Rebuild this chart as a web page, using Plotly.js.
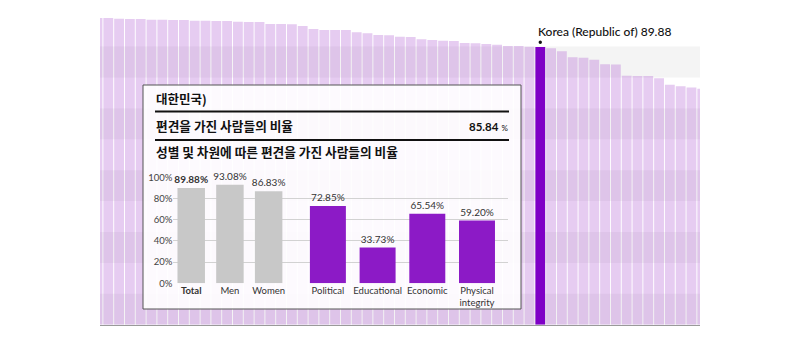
<!DOCTYPE html>
<html><head><meta charset="utf-8">
<script src="https://cdn.plot.ly/plotly-3.0.1.min.js"></script>
<style>html,body{margin:0;padding:0;background:#fff}#chart{width:800px;height:350px}</style>
</head><body><div id="chart"></div>
<script>
// Background: share of people with at least one bias, by country (sorted), visible window
const bgValues = [99.26, 99.26, 99.03, 98.93, 98.93, 98.71, 98.71, 98.61, 98.61, 98.38,
  98.38, 98.28, 98.28, 98.06, 97.96, 97.96, 97.31, 97.31, 97.22, 96.67,
  95.70, 95.37, 95.37, 95.37, 94.63, 94.30, 93.75, 93.69, 93.20, 93.11,
  92.36, 92.14, 91.91, 91.81, 91.17, 91.07, 90.84, 90.61, 90.19, 90.19,
  89.97, 89.88, 89.45, 88.51, 86.54, 86.41, 85.76, 84.30, 84.21, 80.55,
  80.49, 80.49, 79.74, 77.64, 77.18, 76.76, 76.38];
const highlightName = 'Korea (Republic of)';
const highlightValue = 89.88;

// Inset panel
const panelTitle = '대한민국)';
const overallLabel = '편견을 가진 사람들의 비율';
const overallValue = 85.84;
const breakdownLabel = '성별 및 차원에 따른 편견을 가진 사람들의 비율';
const sexCategories = ['Total', 'Men', 'Women'];
const sexValues = [89.88, 93.08, 86.83];
const dimCategories = ['Political', 'Educational', 'Economic', 'Physical integrity'];
const dimValues = [72.85, 33.73, 65.54, 59.20];
const insetTickVals = [0, 20, 40, 60, 80, 100];

const W = 800, H = 350;
const px = x => x / W;
const py = y => 1 - y / H;
const LATIN = 'Lato, "Noto Sans", sans-serif';
const KR = '"Noto Sans CJK KR", "Noto Sans", sans-serif';

const hiIdx = bgValues.indexOf(highlightValue);
const bgX = bgValues.map((_, i) => i);
const bgColors = bgValues.map((_, i) => i === hiIdx ? '#7f00c6' : 'rgba(155,50,200,0.25)');

const fmt = v => v.toFixed(2) + '%';
const tickText = c => c === 'Total' ? '<b>' + c + '</b>' : c.replace(' ', '<br>');

const traces = [
  {type: 'bar', x: bgX, y: bgValues, xaxis: 'x', yaxis: 'y', width: 0.91,
   marker: {color: bgColors, line: {width: 0}}, hoverinfo: 'skip'},
  {type: 'scatter', x: [], y: [], xaxis: 'x2', yaxis: 'y2', hoverinfo: 'skip'},
  {type: 'bar', x: sexCategories, y: sexValues, xaxis: 'x3', yaxis: 'y3', width: 0.71,
   marker: {color: '#c8c8c8', line: {width: 0}},
   text: sexValues.map((v, i) => i === 0 ? '<b>' + fmt(v) + '</b>' : fmt(v)),
   textposition: 'outside', cliponaxis: false, constraintext: 'none',
   textfont: {family: LATIN, size: 10, color: '#333'}, hoverinfo: 'skip'},
  {type: 'bar', x: dimCategories, y: dimValues, xaxis: 'x4', yaxis: 'y4', width: 0.724,
   marker: {color: '#8c1ac6', line: {width: 0}},
   text: dimValues.map(fmt),
   textposition: 'outside', cliponaxis: false, constraintext: 'none',
   textfont: {family: LATIN, size: 10, color: '#333'}, hoverinfo: 'skip'}
];

const shapes = [];
for (let v = 0; v < 100; v += 20) {
  shapes.push({type: 'rect', layer: 'below', xref: 'paper', yref: 'y',
    x0: px(100), x1: px(700), y0: v, y1: v + 10, fillcolor: '#f4f4f4', line: {width: 0}});
}
// panel fill (drawn above background bars, below inset bars)
shapes.push({type: 'rect', layer: 'below', xref: 'x2', yref: 'y2', x0: 0, x1: 1, y0: 0, y1: 1,
  fillcolor: 'rgba(255,255,255,0.9)', line: {width: 0}});
// panel border
shapes.push({type: 'rect', layer: 'above', xref: 'paper', yref: 'paper',
  x0: px(143), x1: px(521), y0: py(309), y1: py(85), line: {color: '#555', width: 1}});
// divider lines
[111.5, 140].forEach(y => shapes.push({type: 'line', layer: 'above', xref: 'paper', yref: 'paper',
  x0: px(155), x1: px(509), y0: py(y), y1: py(y), line: {color: '#111', width: 2}}));
// dot above highlighted bar
shapes.push({type: 'circle', layer: 'above', xref: 'x', yref: 'y',
  xsizemode: 'pixel', ysizemode: 'pixel', xanchor: hiIdx, yanchor: highlightValue,
  x0: -1.7, x1: 1.7, y0: 3, y1: 6.4, fillcolor: '#111', line: {width: 0}});

const annotations = [
  {xref: 'x', yref: 'y', x: hiIdx, y: highlightValue, xanchor: 'left', yanchor: 'bottom',
   xshift: -4, yshift: 6, showarrow: false,
   text: highlightName + ' ' + highlightValue.toFixed(2),
   font: {family: LATIN, size: 12, color: '#111', weight: 500}},
  {xref: 'paper', yref: 'paper', x: px(154), y: py(98.5), xanchor: 'left', yanchor: 'middle',
   showarrow: false, text: panelTitle, font: {family: KR, size: 12.5, color: '#111', weight: 700}},
  {xref: 'paper', yref: 'paper', x: px(154), y: py(125.7), xanchor: 'left', yanchor: 'middle',
   showarrow: false, text: overallLabel, font: {family: KR, size: 12.7, color: '#111', weight: 600}},
  {xref: 'paper', yref: 'paper', x: px(510), y: py(126), xanchor: 'right', yanchor: 'middle',
   showarrow: false, text: '<b>' + overallValue.toFixed(2) + '</b> <span style="font-size:8px">%</span>',
   font: {family: LATIN, size: 11.5, color: '#111'}},
  {xref: 'paper', yref: 'paper', x: px(154), y: py(151.5), xanchor: 'left', yanchor: 'middle',
   showarrow: false, text: breakdownLabel, font: {family: KR, size: 12.7, color: '#111', weight: 600}}
];

const insetY = {range: [0, 100], domain: [py(283.3), py(177.3)], tickmode: 'array',
  tickvals: insetTickVals, ticktext: insetTickVals.map(v => v + '%'),
  showgrid: true, gridcolor: '#d2d2d2', gridwidth: 1, zeroline: false, showline: false, ticks: '',
  fixedrange: true};

const layout = {
  width: W, height: H, margin: {l: 0, r: 0, t: 0, b: 0, pad: 0},
  paper_bgcolor: '#ffffff', plot_bgcolor: 'rgba(0,0,0,0)', showlegend: false,
  font: {family: LATIN, color: '#333'},
  xaxis: {domain: [px(100), px(700)], range: [0.2315, 55.79], showticklabels: false, showgrid: false,
    zeroline: false, showline: true, linecolor: '#9a9a9a', linewidth: 1, ticks: '', fixedrange: true, anchor: 'y'},
  yaxis: {domain: [py(324.7), py(15.7)], range: [0, 100], visible: false, fixedrange: true, anchor: 'x'},
  xaxis2: {domain: [px(143), px(521)], range: [0, 1], visible: false, anchor: 'y2', fixedrange: true},
  yaxis2: {domain: [py(309), py(85)], range: [0, 1], visible: false, anchor: 'x2', fixedrange: true},
  xaxis3: {domain: [px(173.3), px(296)], range: [-0.463, 2.707], type: 'category', anchor: 'y3',
    tickvals: sexCategories, ticktext: sexCategories.map(tickText), showgrid: false, zeroline: false,
    showline: false, ticks: '', tickfont: {family: LATIN, size: 9.5, color: '#333'}, fixedrange: true},
  yaxis3: Object.assign({}, insetY, {anchor: 'x3',
    tickfont: {family: LATIN, size: 9.5, color: '#444'}}),
  xaxis4: {domain: [px(296), px(508.3)], range: [-0.642, 3.63], type: 'category', anchor: 'y4',
    tickvals: dimCategories, ticktext: dimCategories.map(tickText), showgrid: false, zeroline: false,
    showline: false, ticks: '', tickfont: {family: LATIN, size: 9.5, color: '#333'}, fixedrange: true},
  yaxis4: Object.assign({}, insetY, {anchor: 'x4', showticklabels: false}),
  shapes: shapes,
  annotations: annotations
};

Plotly.newPlot('chart', traces, layout, {displayModeBar: false, staticPlot: true});
</script>
</body></html>
